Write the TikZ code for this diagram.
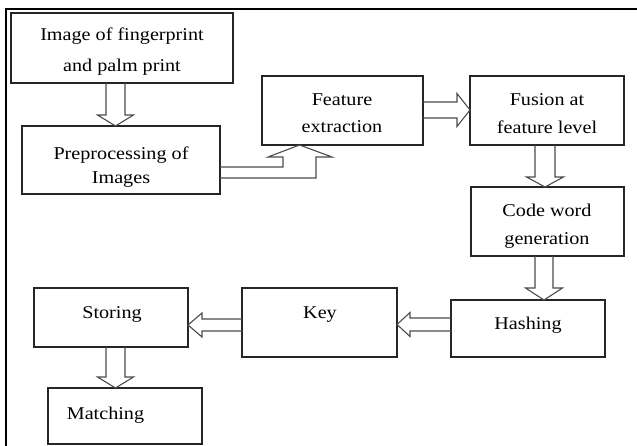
\documentclass[tikz,border=0pt]{standalone}
\usepackage{fontspec}
\setmainfont{Liberation Serif}[FakeStretch=1.12]
\usetikzlibrary{calc}
\tikzset{
  box/.style={draw=black!85, line width=1.3pt, inner sep=0pt, outer sep=0pt},
  lbl/.style={anchor=base, inner sep=0pt, font=\fontsize{18}{20}\selectfont, text=black},
  blk/.style={draw=black!70, line width=1.1pt, line join=miter},
  frame/.style={draw=black, line width=2pt}
}
% down block arrow: from, to, x centre, shaft half, head half, head length
\newcommand\darrowblk[6]{%
  \draw[blk] let \p1=(#1.south), \p2=(#2.north), \p3=(#3,0) in
   (\x3-#4pt,\y1) -- (\x3-#4pt,\y2+#6pt) -- (\x3-#5pt,\y2+#6pt) -- (\x3,\y2)
   -- (\x3+#5pt,\y2+#6pt) -- (\x3+#4pt,\y2+#6pt) -- (\x3+#4pt,\y1);}
% right block arrow
\newcommand\rarrowblk[6]{%
  \draw[blk] let \p1=(#1.east), \p2=(#2.west), \p3=(0,#3) in
   (\x1,\y3+#4pt) -- (\x2-#6pt,\y3+#4pt) -- (\x2-#6pt,\y3+#5pt) -- (\x2,\y3)
   -- (\x2-#6pt,\y3-#5pt) -- (\x2-#6pt,\y3-#4pt) -- (\x1,\y3-#4pt);}
% left block arrow
\newcommand\larrowblk[6]{%
  \draw[blk] let \p1=(#1.west), \p2=(#2.east), \p3=(0,#3) in
   (\x1,\y3+#4pt) -- (\x2+#6pt,\y3+#4pt) -- (\x2+#6pt,\y3+#5pt) -- (\x2,\y3)
   -- (\x2+#6pt,\y3-#5pt) -- (\x2+#6pt,\y3-#4pt) -- (\x1,\y3-#4pt);}
\begin{document}
\begin{tikzpicture}[x=1pt,y=-1pt]
\useasboundingbox (0,0) rectangle (637,446);
\fill[white] (0,0) rectangle (637,446);
% frame
\draw[frame] (6,446) -- (6,9.5) -- (637,9.5);
% boxes
\node[box, minimum width=222pt, minimum height=70pt] (img)   at (122,48)     {};
\node[box, minimum width=198pt, minimum height=68pt] (pre)   at (121,160)    {};
\node[box, minimum width=161pt, minimum height=69pt] (feat)  at (342.5,110.5){};
\node[box, minimum width=154pt, minimum height=69pt] (fus)   at (547,110.5)  {};
\node[box, minimum width=153pt, minimum height=69pt] (code)  at (547.5,221.5){};
\node[box, minimum width=154pt, minimum height=57pt] (hash)  at (528,328.5)  {};
\node[box, minimum width=155pt, minimum height=69pt] (key)   at (319.5,322.5){};
\node[box, minimum width=154pt, minimum height=59pt] (stor)  at (111,317.5)  {};
\node[box, minimum width=154pt, minimum height=56pt] (match) at (125,416)    {};
% labels
\node[lbl] (t1a) at (122,40.5) {Image of fingerprint};
\node[lbl] (t1b) at (122,71.5) {and palm print};
\node[lbl] (t2a) at (121,160) {Preprocessing of};
\node[lbl] (t2b) at (121,183.5) {Images};
\node[lbl] (t3a) at (342,106) {Feature};
\node[lbl] (t3b) at (342,133) {extraction};
\node[lbl] (t4a) at (547,106) {Fusion at};
\node[lbl] (t4b) at (547,134) {feature level};
\node[lbl] (t5a) at (547,217) {Code word};
\node[lbl] (t5b) at (547,245) {generation};
\node[lbl] (t6) at (528,330) {Hashing};
\node[lbl] (t7) at (320,319) {Key};
\node[lbl] (t8) at (112,319) {Storing};
\node[lbl] (t9) at (105.5,419) {Matching};
% block arrows
\darrowblk{img}{pre}{115.5}{9.5}{18}{11}
\draw[blk] let \p1=(pre.east), \p2=(feat.south) in
  (\x1,-167pt) -- (283pt,-167pt) -- (283pt,\y2-12pt) -- (268pt,\y2-12pt) -- (299.5pt,\y2)
  -- (332pt,\y2-12pt) -- (316pt,\y2-12pt) -- (316pt,-178pt) -- (\x1,-178pt);
\rarrowblk{feat}{fus}{110}{8}{16.5}{13}
\darrowblk{fus}{code}{545}{10}{18.5}{10}
\darrowblk{code}{hash}{544}{9}{18.5}{12}
\larrowblk{hash}{key}{324.5}{6.5}{12}{13}
\larrowblk{key}{stor}{325}{6}{12}{14}
\darrowblk{stor}{match}{115.5}{9.5}{18}{11}
\end{tikzpicture}
\end{document}
